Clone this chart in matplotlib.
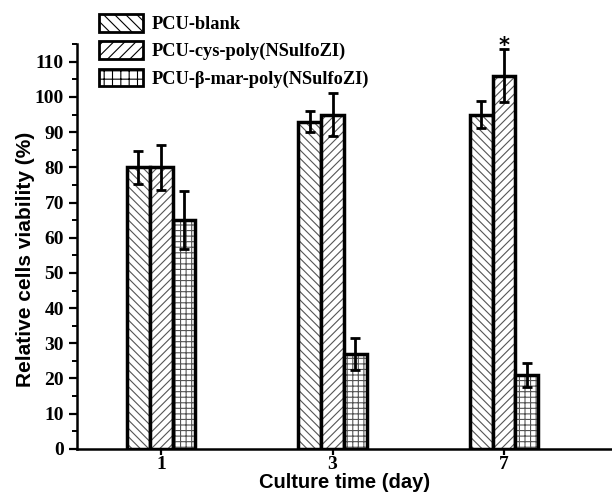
import matplotlib.pyplot as plt
from matplotlib.patches import Patch
from matplotlib.ticker import MultipleLocator

days = ["1", "3", "7"]
series = ["PCU-blank", "PCU-cys-poly(NSulfoZI)", "PCU-\u03b2-mar-poly(NSulfoZI)"]
blank = [80, 93, 95]
blank_err = [4.6, 3.0, 3.8]
cys = [80, 95, 106]
cys_err = [6.4, 6.0, 7.5]
mar = [65, 27, 21]
mar_err = [8.2, 4.5, 3.5]
hatches = ["\\\\\\\\", "////", "+++"]
legend_hatches = ["\\\\\\", "///", "++"]

plt.rcParams["hatch.linewidth"] = 0.8

fig = plt.figure(figsize=(6.12, 4.96), dpi=100)
ax = fig.add_axes([0.126, 0.095, 0.874, 0.816])

x = list(range(1, len(days) + 1))
w = 0.133
vals = [blank, cys, mar]
errs = [blank_err, cys_err, mar_err]
for k, (v, e, h) in enumerate(zip(vals, errs, hatches)):
    pos = [xi + (k - 1) * w for xi in x]
    # hatch drawn in grey, outline in thick black on top
    ax.bar(pos, v, width=w, color="white", edgecolor="#555555", hatch=h, linewidth=0)
    ax.bar(pos, v, width=w, fill=False, edgecolor="black", linewidth=2.5)
    ax.errorbar(pos, v, yerr=e, fmt="none", ecolor="black", elinewidth=2,
                capsize=3.5, capthick=2)

# significance mark over day 7
ax.text(x[2], 114.5, "*", ha="center", va="center", fontsize=15,
        fontweight="bold", clip_on=False)

ax.set_xlim(0.51, 3.63)
ax.set_ylim(0, 115)
ax.set_xticks(x)
ax.set_xticklabels(days)
ax.yaxis.set_major_locator(MultipleLocator(10))
ax.yaxis.set_minor_locator(MultipleLocator(5))

for s in ["top", "right"]:
    ax.spines[s].set_visible(False)
for s in ["left", "bottom"]:
    ax.spines[s].set_linewidth(1.8)

ax.tick_params(axis="both", which="major", direction="out", length=6, width=1.6)
ax.tick_params(axis="x", which="major", length=4, pad=1)
ax.tick_params(axis="y", which="minor", direction="out", length=3.5, width=1.4)
for lab in ax.get_xticklabels() + ax.get_yticklabels():
    lab.set_fontfamily("Liberation Serif")
    lab.set_fontweight("bold")
    lab.set_fontsize(14)

ax.set_xlabel("Culture time (day)", fontfamily="Liberation Sans",
              fontweight="bold", fontsize=14.5, labelpad=0)
ax.set_ylabel("Relative cells viability (%)", fontfamily="Liberation Sans",
              fontweight="bold", fontsize=15)
ax.yaxis.set_label_coords(-0.078, 0.467)

handles = [Patch(facecolor="white", edgecolor="black", hatch=h, linewidth=2)
           for h in legend_hatches]
fig.legend(handles, series, loc="upper left", bbox_to_anchor=(0.135, 1.005),
           frameon=False, handlelength=2.4, handleheight=1.1,
           labelspacing=0.45, handletextpad=0.45,
           prop={"family": "Liberation Serif", "weight": "bold", "size": 13.2})

fig.savefig("out.png", dpi=100)
